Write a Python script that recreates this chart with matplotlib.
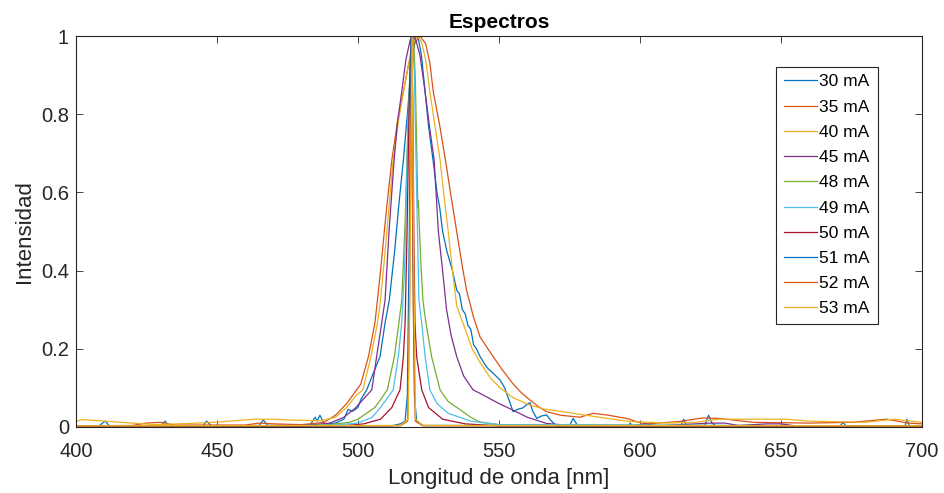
import matplotlib
matplotlib.use("Agg")
import matplotlib.pyplot as plt

plt.rcParams['font.family'] = ['Liberation Sans', 'DejaVu Sans']

# spectra (wavelength nm, normalised intensity)
wl_30 = [400, 408, 410.3, 412, 430, 431.6, 433, 445, 446.3, 448, 465, 466.4, 468, 483, 484.8, 485.5, 486.5, 488,
         492, 495, 496.5, 498, 500, 501, 503.1, 505, 507.8, 509.6, 511.1, 513, 514.5, 516.1, 517.5, 519, 520.5,
         521.5, 522.5, 523.8, 525, 526.6, 528, 529, 530, 531.5, 533.5, 535, 536, 537, 538, 539, 540, 541, 542,
         543.3, 545, 546, 548, 550.4, 552, 553.5, 555, 556.5, 558.5, 560, 561, 562, 563.4, 565, 566.9, 568,
         570.4, 575, 576.3, 578, 596, 596.5, 597.5, 614.5, 615.5, 616.5, 623, 624.3, 625.5, 627, 671, 672, 673,
         694, 694.7, 695.5, 700]
int_30 = [0.002, 0.002, 0.015, 0.002, 0.003, 0.015, 0.003, 0.003, 0.015, 0.003, 0.004, 0.018, 0.004, 0.005, 0.025,
          0.015, 0.03, 0.008, 0.01, 0.02, 0.045, 0.04, 0.05, 0.07, 0.095, 0.13, 0.18, 0.266, 0.325, 0.45, 0.57,
          0.683, 0.8, 0.93, 1.0, 0.99, 0.95, 0.857, 0.77, 0.683, 0.6, 0.56, 0.5, 0.45, 0.4, 0.35, 0.34, 0.3, 0.29,
          0.26, 0.25, 0.21, 0.2, 0.18, 0.16, 0.15, 0.137, 0.12, 0.1, 0.07, 0.039, 0.045, 0.049, 0.058, 0.062, 0.04,
          0.022, 0.028, 0.031, 0.02, 0.002, 0.003, 0.022, 0.002, 0.003, 0.01, 0.002, 0.003, 0.02, 0.003, 0.004,
          0.03, 0.01, 0.003, 0.003, 0.012, 0.003, 0.003, 0.02, 0.003, 0.002]

wl_35 = [400, 420, 425, 430, 435, 460, 465, 470, 480, 488, 492, 496, 498, 501, 503.7, 506, 506.9, 508, 510, 512,
         514, 516.1, 518, 520, 522, 524, 525.5, 526.7, 529, 531, 533, 535, 537, 538.5, 541, 543.3, 547, 550.4,
         555, 558, 561, 564, 566.9, 572, 578.7, 583.3, 588, 595.3, 600, 602.4, 610, 614, 622, 628, 640, 660,
         675, 687.5, 695, 700]
int_35 = [0.003, 0.004, 0.01, 0.012, 0.005, 0.005, 0.01, 0.008, 0.006, 0.012, 0.03, 0.06, 0.08, 0.11, 0.18, 0.266,
          0.325, 0.4, 0.55, 0.683, 0.78, 0.857, 0.93, 0.98, 1.0, 0.98, 0.93, 0.857, 0.77, 0.683, 0.59, 0.5, 0.41,
          0.35, 0.28, 0.23, 0.19, 0.154, 0.11, 0.087, 0.069, 0.052, 0.039, 0.03, 0.025, 0.035, 0.031, 0.022, 0.011,
          0.008, 0.012, 0.014, 0.023, 0.022, 0.012, 0.01, 0.012, 0.02, 0.01, 0.008]

wl_40 = [400, 402, 410, 420, 428, 440, 449, 463.5, 470, 475, 487, 492, 496, 499, 501.7, 504.6, 506.9, 508, 510,
         512.5, 514.5, 516.1, 518, 519.5, 521, 522.5, 524, 525.5, 527.5, 529.1, 530.5, 532, 533.5, 535, 538,
         540.5, 543.3, 547, 550.4, 555, 561, 566, 572.7, 584.6, 596.5, 610, 620, 628, 640, 652, 660, 680, 690, 700]
int_40 = [0.014, 0.019, 0.015, 0.01, 0.006, 0.009, 0.012, 0.02, 0.02, 0.018, 0.016, 0.025, 0.05, 0.078, 0.095, 0.18,
          0.266, 0.325, 0.48, 0.688, 0.79, 0.857, 0.93, 0.98, 1.0, 0.985, 0.94, 0.857, 0.76, 0.683, 0.59, 0.5, 0.4,
          0.31, 0.25, 0.2, 0.165, 0.125, 0.1, 0.075, 0.056, 0.046, 0.039, 0.026, 0.014, 0.01, 0.012, 0.02, 0.02,
          0.02, 0.015, 0.012, 0.02, 0.012]

wl_45 = [400, 480, 490, 495, 499, 504.9, 506.6, 508.4, 509.6, 511, 512.8, 514, 515.5, 517, 518.5, 519.5, 520.5, 522,
         523.8, 525.5, 527, 528.5, 530, 531.4, 533, 535, 537.5, 540.8, 543.3, 550, 555, 560, 566.9, 575, 598, 602,
         606, 625, 630, 635, 645, 650, 655, 700]
int_45 = [0.002, 0.003, 0.01, 0.025, 0.048, 0.095, 0.18, 0.266, 0.325, 0.5, 0.683, 0.78, 0.857, 0.94, 0.99, 1.0,
          0.99, 0.95, 0.857, 0.76, 0.683, 0.5, 0.4, 0.3, 0.235, 0.18, 0.13, 0.095, 0.086, 0.06, 0.043, 0.025, 0.009,
          0.004, 0.004, 0.008, 0.003, 0.01, 0.01, 0.004, 0.008, 0.008, 0.003, 0.002]

wl_48 = [400, 480, 490, 497, 500, 503, 506, 508, 510.4, 512.9, 514.5, 515.5, 516.7, 517.8, 519, 519.6, 520.3, 521,
         521.2, 521.4, 521.7, 522.3, 523, 524.1, 526.1, 529.1, 532, 535, 540, 543, 550, 700]
int_48 = [0.002, 0.003, 0.006, 0.012, 0.02, 0.035, 0.05, 0.07, 0.095, 0.18, 0.266, 0.325, 0.52, 0.8, 0.98, 1.0, 0.9,
          0.65, 0.56, 0.58, 0.52, 0.42, 0.325, 0.266, 0.18, 0.095, 0.065, 0.05, 0.025, 0.013, 0.006, 0.002]

wl_49 = [400, 490, 500, 505, 508, 512.5, 514.3, 515.5, 516.5, 517.5, 518.5, 519.3, 520, 520.8, 521.6, 522.6, 523.8,
         525.5, 528, 532, 540, 550, 700]
int_49 = [0.002, 0.004, 0.01, 0.025, 0.05, 0.095, 0.18, 0.266, 0.4, 0.7, 0.93, 1.0, 0.9, 0.6, 0.325, 0.266, 0.18,
          0.095, 0.06, 0.035, 0.015, 0.006, 0.002]

wl_50 = [400, 495, 502, 508, 512, 514.9, 516.1, 516.7, 517.4, 518.2, 518.8, 519.4, 519.8, 520.2, 520.8, 522.6, 525,
         530, 538, 550, 700]
int_50 = [0.002, 0.003, 0.008, 0.02, 0.05, 0.095, 0.18, 0.266, 0.5, 0.85, 1.0, 0.85, 0.5, 0.266, 0.18, 0.095, 0.05,
          0.02, 0.008, 0.003, 0.002]

wl_51 = [400, 512, 515, 516.7, 517.5, 518.2, 518.8, 519.4, 520, 520.8, 523, 700]
int_51 = [0.002, 0.003, 0.008, 0.015, 0.08, 0.5, 1.0, 0.5, 0.08, 0.015, 0.004, 0.002]

wl_52 = [400, 515, 517.6, 518.3, 519, 519.6, 520.3, 523, 700]
int_52 = [0.002, 0.003, 0.015, 0.3, 1.0, 0.3, 0.015, 0.003, 0.002]

wl_53 = [400, 515, 517.8, 518.4, 519.2, 519.8, 520.4, 523, 700]
int_53 = [0.003, 0.004, 0.02, 0.4, 1.0, 0.4, 0.02, 0.004, 0.003]

labels = ['30 mA', '35 mA', '40 mA', '45 mA', '48 mA', '49 mA', '50 mA', '51 mA', '52 mA', '53 mA']
colors = ['#0072BD', '#D95319', '#EDB120', '#7E2F8E', '#77AC30', '#4DBEEE', '#A2142F',
          '#0072BD', '#D95319', '#EDB120']
series = [(wl_30, int_30), (wl_35, int_35), (wl_40, int_40), (wl_45, int_45), (wl_48, int_48),
          (wl_49, int_49), (wl_50, int_50), (wl_51, int_51), (wl_52, int_52), (wl_53, int_53)]

xticks = [400, 450, 500, 550, 600, 650, 700]
yticks = [0, 0.2, 0.4, 0.6, 0.8, 1]
ytick_labels = ['0', '0.2', '0.4', '0.6', '0.8', '1']

fig = plt.figure(figsize=(9.44, 4.93), dpi=100)
ax = fig.add_axes([76 / 944, 1 - 427 / 493, (922 - 76) / 944, (427 - 36) / 493])

for (x, y), c, lab in zip(series, colors, labels):
    ax.plot(x, y, color=c, lw=0.9, label=lab)

ax.set_xlim(400, 700)
ax.set_ylim(0, 1)
ax.set_xticks(xticks)
ax.set_yticks(yticks)
ax.set_yticklabels(ytick_labels)
ax.tick_params(direction='in', length=5, width=0.6, labelsize=14.5, colors='#262626',
               top=True, right=True)
ax.tick_params(axis='x', pad=11)
ax.tick_params(axis='y', pad=5)
for s in ax.spines.values():
    s.set_color('#262626')
    s.set_linewidth(0.8)

ax.set_title('Espectros', fontsize=15, fontweight='bold', pad=6)
ax.set_xlabel('Longitud de onda [nm]', fontsize=16, color='#262626', labelpad=5)
ax.set_ylabel('Intensidad', fontsize=16, color='#262626', labelpad=4)

leg = ax.legend(loc='upper left', bbox_to_anchor=(776 / 944, 1 - 66.5 / 493),
                bbox_transform=fig.transFigure, borderaxespad=0, fontsize=12.5,
                handlelength=1.9, handletextpad=0.15, labelspacing=0.58,
                borderpad=0.45, fancybox=False, framealpha=1)
leg.get_frame().set_edgecolor('#262626')
leg.get_frame().set_linewidth(0.8)

fig.savefig('out.png', dpi=100)
